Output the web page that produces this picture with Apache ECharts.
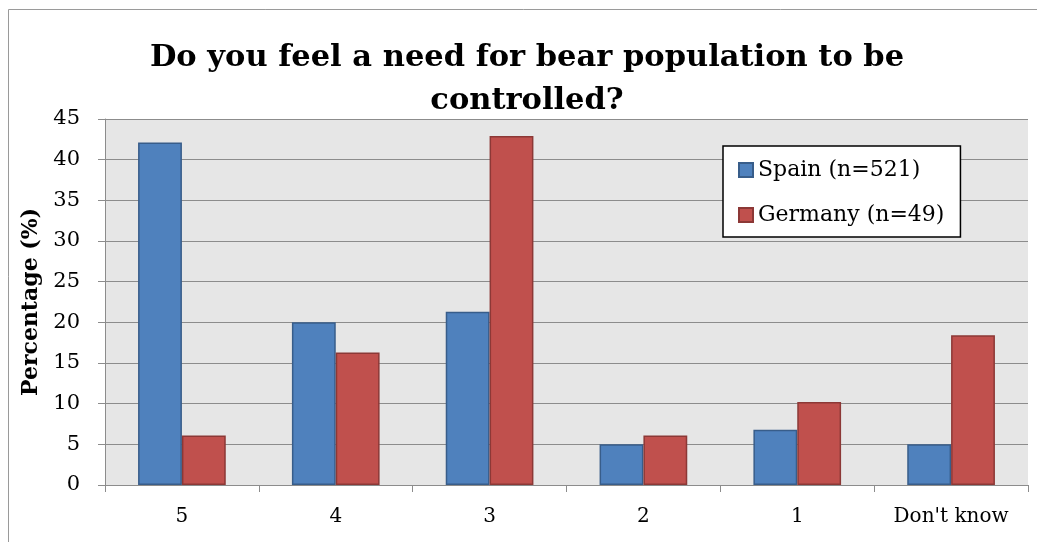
<!DOCTYPE html>
<html>
<head>
<meta charset="utf-8">
<script src="https://cdn.jsdelivr.net/npm/echarts@6/dist/echarts.min.js"></script>
<style>html,body{margin:0;padding:0;background:#fff;}#c{width:1037px;height:542px;}</style>
</head>
<body>
<div id="c"></div>
<script>
const categories = ['5', '4', '3', '2', '1', "Don't know"];
const spain = [42.1, 20.0, 21.3, 5.0, 6.8, 5.0];
const germany = [6.1, 16.3, 42.9, 6.1, 10.2, 18.4];
const seriesNames = ['Spain (n=521)', 'Germany (n=49)'];
const titleText = 'Do you feel a need for bear population to be\ncontrolled?';
const yAxisName = 'Percentage (%)';

const FONT = 'DejaVu Serif';
const chart = echarts.init(document.getElementById('c'));
chart.setOption({
  animation: false,
  backgroundColor: '#fff',
  graphic: [{
    type: 'rect', silent: true, z: -1,
    shape: { x: 8.5, y: 9.5, width: 1100, height: 600 },
    style: { fill: 'none', stroke: '#9a9a9a', lineWidth: 1 }
  }],
  title: {
    text: titleText,
    left: 522, top: 32, textAlign: 'center',
    textStyle: { fontFamily: FONT, fontWeight: 'bold', fontSize: 30.5, lineHeight: 43, color: '#000' }
  },
  grid: { left: 105, right: 9, top: 119, bottom: 57, show: true, backgroundColor: '#e6e6e6', borderWidth: 0 },
  legend: {
    orient: 'vertical', left: 723, top: 146,
    padding: [13, 16, 11, 15], itemGap: 23,
    itemWidth: 14, itemHeight: 14, icon: 'rect',
    borderColor: '#000', borderWidth: 1.5, backgroundColor: '#fff',
    textStyle: { fontFamily: FONT, fontSize: 22, color: '#000', lineHeight: 22 },
    data: seriesNames
  },
  xAxis: {
    type: 'category', data: categories,
    axisLine: { lineStyle: { color: '#8c8c8c', width: 1 } },
    axisTick: { show: true, length: 7, alignWithLabel: false, lineStyle: { color: '#8c8c8c' } },
    axisLabel: { fontFamily: FONT, fontSize: 20, color: '#000', margin: 22, interval: 0, hideOverlap: false }
  },
  yAxis: {
    type: 'value', min: 0, max: 45, interval: 5,
    name: yAxisName, nameLocation: 'middle', nameGap: 62,
    nameTextStyle: { fontFamily: FONT, fontWeight: 'bold', fontSize: 22, color: '#000' },
    axisLine: { show: true, lineStyle: { color: '#8c8c8c', width: 1 } },
    axisTick: { show: true, length: 7, lineStyle: { color: '#8c8c8c' } },
    splitLine: { lineStyle: { color: '#8c8c8c', width: 1.2 } },
    axisLabel: { fontFamily: FONT, fontSize: 21, color: '#000', margin: 25 }
  },
  series: [
    { name: seriesNames[0], type: 'bar', data: spain, barGap: '0%', barCategoryGap: '43%',
      itemStyle: { color: '#4f81bd', borderColor: '#385d8a', borderWidth: 1.5 } },
    { name: seriesNames[1], type: 'bar', data: germany, barGap: '0%', barCategoryGap: '43%',
      itemStyle: { color: '#c0504d', borderColor: '#8c3836', borderWidth: 1.5 } }
  ]
});
</script>
</body>
</html>
